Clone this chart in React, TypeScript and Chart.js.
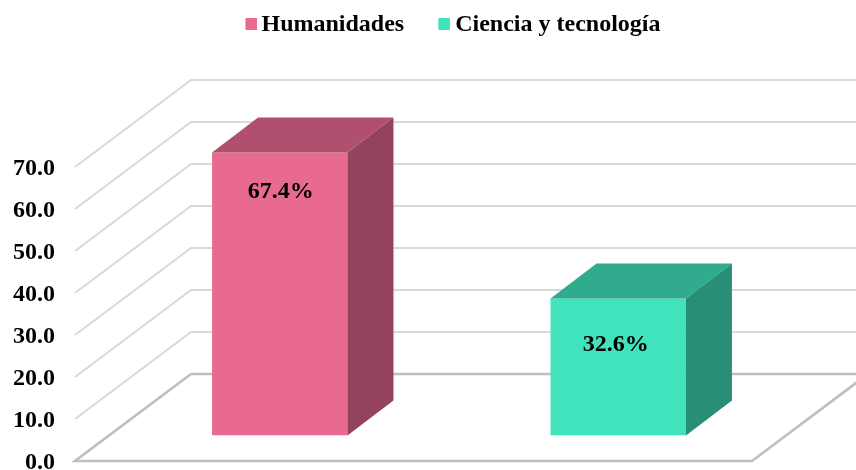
import React, { useEffect, useRef } from "react";
import { Chart, registerables } from "chart.js";

Chart.register(...registerables);

const categories = ["Humanidades", "Ciencia y tecnología"];
const values = [67.4, 32.6];
const valueLabels = ["67.4%", "32.6%"];
const yTicks = [0, 10, 20, 30, 40, 50, 60, 70];
const frontColors = ["#E96A8F", "#41E3BC"];
const topColors = ["#B0506E", "#31AB8E"];
const sideColors = ["#93435C", "#288E75"];
const labelDrops = [39, 46];
const labelNudges = [1, -2.5];
const markerNudges = [2, 1];

const FONT = "'Liberation Serif', 'Times New Roman', serif";
const WALL_DX = 116;
const WALL_DY = 87;
const BAR_DX = 35.5;
const BAR_DY = 25.5;
const CAP_DX = 46;
const CAP_DY = 35;
const LEGEND_DX = 79;
const LEGEND_DY = -120;
const MARKER = 12;

function marker(color: string, nudge: number) {
  const c = document.createElement("canvas");
  c.width = MARKER + nudge * 2;
  c.height = MARKER + 2;
  const g = c.getContext("2d")!;
  g.fillStyle = color;
  g.fillRect(nudge * 2, 0, MARKER, MARKER);
  return c;
}

const box3d = {
  id: "box3d",
  afterUpdate(chart: any) {
    const legend = chart.legend;
    if (legend && !legend.__shifted) {
      const draw = legend.draw;
      legend.draw = function (...args: any[]) {
        const c = chart.ctx;
        c.save();
        c.translate(LEGEND_DX, LEGEND_DY);
        draw.apply(this, args);
        c.restore();
      };
      legend.__shifted = true;
    }
  },
  beforeDatasetsDraw(chart: any) {
    const { ctx, chartArea, scales } = chart;
    const y = scales.y;
    const right = chart.width + 10;
    ctx.save();
    ctx.lineJoin = "miter";
    yTicks.forEach((t) => {
      if (t === 0) return;
      const py = y.getPixelForValue(t);
      ctx.beginPath();
      ctx.moveTo(chartArea.left, py);
      ctx.lineTo(chartArea.left + WALL_DX, py - WALL_DY);
      ctx.lineTo(right, py - WALL_DY);
      ctx.strokeStyle = "#D9D9D9";
      ctx.lineWidth = 2;
      ctx.stroke();
    });
    const py0 = y.getPixelForValue(0);
    ctx.beginPath();
    ctx.moveTo(chartArea.left + WALL_DX, py0 - WALL_DY);
    ctx.lineTo(right + 20, py0 - WALL_DY);
    ctx.moveTo(chartArea.left + WALL_DX, py0 - WALL_DY);
    ctx.lineTo(chartArea.left, py0);
    ctx.lineTo(chartArea.right, py0);
    ctx.lineTo(chartArea.right + WALL_DX, py0 - WALL_DY);
    ctx.strokeStyle = "#BFBFBF";
    ctx.lineWidth = 2.6;
    ctx.stroke();
    ctx.restore();

    ctx.save();
    ctx.translate(BAR_DX, -BAR_DY);
  },
  afterDatasetsDraw(chart: any) {
    const { ctx } = chart;
    ctx.restore();
    const bars = chart.getDatasetMeta(0).data;
    ctx.save();
    bars.forEach((bar: any, i: number) => {
      const half = bar.width / 2;
      const l = bar.x - half + BAR_DX;
      const r = bar.x + half + BAR_DX;
      const t = bar.y - BAR_DY;
      const b = bar.base - BAR_DY;
      ctx.fillStyle = topColors[i];
      ctx.beginPath();
      ctx.moveTo(l, t);
      ctx.lineTo(l + CAP_DX, t - CAP_DY);
      ctx.lineTo(r + CAP_DX, t - CAP_DY);
      ctx.lineTo(r, t);
      ctx.closePath();
      ctx.fill();
      ctx.fillStyle = sideColors[i];
      ctx.beginPath();
      ctx.moveTo(r, t);
      ctx.lineTo(r + CAP_DX, t - CAP_DY);
      ctx.lineTo(r + CAP_DX, b - CAP_DY);
      ctx.lineTo(r, b);
      ctx.closePath();
      ctx.fill();
      ctx.fillStyle = "#000";
      ctx.font = `bold 24px ${FONT}`;
      ctx.textAlign = "center";
      ctx.textBaseline = "middle";
      ctx.fillText(valueLabels[i], (l + r) / 2 + labelNudges[i], t + labelDrops[i]);
    });
    ctx.restore();
  },
};

export default function App() {
  const ref = useRef<HTMLCanvasElement>(null);
  useEffect(() => {
    document.body.style.margin = "0";
    const markers = frontColors.map((c, i) => marker(c, markerNudges[i]));
    const chart = new Chart(ref.current!, {
      type: "bar",
      data: {
        labels: categories,
        datasets: [
          {
            data: values,
            backgroundColor: frontColors,
            borderWidth: 0,
            barPercentage: 0.4,
            categoryPercentage: 1,
          },
        ],
      },
      plugins: [box3d],
      options: {
        responsive: false,
        animation: false,
        layout: { padding: { top: 94, right: 104, bottom: 9, left: 0 } },
        plugins: {
          tooltip: { enabled: false },
          legend: {
            display: true,
            position: "top",
            labels: {
              usePointStyle: true,
              boxWidth: 0.01,
              boxHeight: 12,
              padding: 39,
              color: "#000",
              font: { family: FONT, size: 24, weight: "bold" },
              generateLabels: () =>
                categories.map((text, i) => ({
                  text,
                  fillStyle: frontColors[i],
                  strokeStyle: frontColors[i],
                  lineWidth: 0,
                  pointStyle: markers[i],
                  index: i,
                })),
            },
          },
        },
        scales: {
          x: { display: false },
          y: {
            min: 0,
            max: 70,
            afterFit(scale: any) {
              scale.width = 75;
              scale.paddingTop = 0;
              scale.paddingBottom = 0;
            },
            afterBuildTicks(scale: any) {
              scale.ticks = yTicks.map((value) => ({ value }));
            },
            grid: { display: false },
            border: { display: false },
            ticks: {
              padding: 12,
              labelOffset: 2,
              autoSkip: false,
              color: "#000",
              font: { family: FONT, size: 24, weight: "bold" },
              callback: (v: any) => Number(v).toFixed(1),
            },
          },
        },
      },
    });
    return () => chart.destroy();
  }, []);
  return <canvas ref={ref} width={856} height={470} style={{ display: "block" }} />;
}
